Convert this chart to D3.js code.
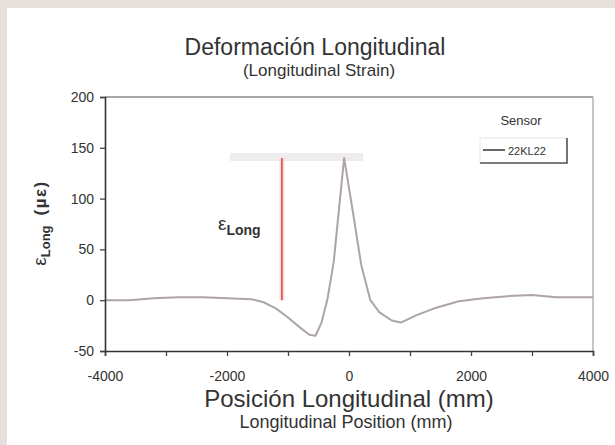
<!DOCTYPE html>
<html>
<head>
<meta charset="utf-8">
<script src="https://cdn.jsdelivr.net/npm/d3@7"></script>
<style>
  html, body { margin: 0; padding: 0; background: #e5e0dc; }
  svg { display: block; }
  text { font-family: "Liberation Sans", Arial, sans-serif; fill: #333; }
</style>
</head>
<body>
<script>
// Longitudinal strain along the rail, sensor 22KL22
const positionsMm = [-4000, -3600, -3200, -2800, -2400, -2000, -1600, -1400, -1200, -1000, -800, -650, -550, -450, -350, -250, -150, -80, 50, 200, 350, 500, 700, 850, 1100, 1400, 1800, 2200, 2600, 3000, 3400, 3800, 4000];
const strainMicro = [0, 0, 2, 3, 3, 2, 1, -2, -8, -17, -27, -34, -35, -22, 2, 38, 98, 140, 92, 35, 0, -12, -20, -22, -15, -8, -1, 2, 4, 5, 3, 3, 3];

const xTicksMinor = [-4000, -3000, -2000, -1000, 0, 1000, 2000, 3000, 4000];
const xTickLabels = [-4000, -2000, 0, 2000, 4000];
const yTickLabels = [-50, 0, 50, 100, 150, 200];

const seriesName = "22KL22";
const legendTitle = "Sensor";

// peak-strain annotation: vertical marker and reference level
const markerPos = -1100;
const markerFrom = 0;
const markerTo = 140;
const refLevel = 141;
const refFrom = -1950;
const refTo = 230;

const W = 615, H = 445;
const M = { left: 105, right: 593, top: 97, bottom: 351 };

const plain = d => String(d);

const svg = d3.select("body").append("svg").attr("width", W).attr("height", H);

// white panel
svg.append("rect").attr("x", 7).attr("y", 8).attr("width", W - 7).attr("height", H - 8).attr("fill", "#ffffff");

const x = d3.scaleLinear().domain([-4000, 4000]).range([M.left, M.right]);
const y = d3.scaleLinear().domain([-50, 200]).range([M.bottom, M.top]);

// frame: top and right
svg.append("line").attr("x1", M.left).attr("x2", M.right).attr("y1", M.top).attr("y2", M.top)
  .attr("stroke", "#8a8a8a").attr("stroke-width", 1.5);
svg.append("line").attr("x1", M.right).attr("x2", M.right).attr("y1", M.top).attr("y2", M.bottom)
  .attr("stroke", "#a0a0a0").attr("stroke-width", 1.2);

// reference level band
svg.append("line").attr("x1", x(refFrom)).attr("x2", x(refTo)).attr("y1", y(refLevel)).attr("y2", y(refLevel))
  .attr("stroke", "#eeecec").attr("stroke-width", 8);

// strain curve
const line = d3.line().x((d, i) => x(positionsMm[i])).y(d => y(d)).curve(d3.curveLinear);
svg.append("path").datum(strainMicro).attr("d", line)
  .attr("fill", "none").attr("stroke", "#ada4a4").attr("stroke-width", 2).attr("stroke-linejoin", "round");

// marker
svg.append("line").attr("x1", x(markerPos)).attr("x2", x(markerPos)).attr("y1", y(markerFrom)).attr("y2", y(markerTo))
  .attr("stroke", "#f6dada").attr("stroke-width", 5);
svg.append("line").attr("x1", x(markerPos)).attr("x2", x(markerPos)).attr("y1", y(markerFrom)).attr("y2", y(markerTo))
  .attr("stroke", "#d9302f").attr("stroke-width", 1.3);

const eps = svg.append("text").attr("x", x(markerPos) - 64).attr("y", y(69));
eps.append("tspan").text("ε").attr("font-size", 19);
eps.append("tspan").text("Long").attr("font-size", 14).attr("font-weight", "bold").attr("dy", 5);

// axes
const xAxisMinor = d3.axisBottom(x).tickValues(xTicksMinor).tickFormat("").tickSize(5);
const gxm = svg.append("g").attr("transform", `translate(0,${M.bottom})`).call(xAxisMinor);
gxm.select(".domain").attr("stroke", "#333").attr("stroke-width", 1.6);
gxm.selectAll(".tick line").attr("stroke", "#444").attr("stroke-width", 1.3);

const xAxis = d3.axisBottom(x).tickValues(xTickLabels).tickFormat(plain).tickSize(0).tickPadding(20);
const gx = svg.append("g").attr("transform", `translate(0,${M.bottom})`).call(xAxis);
gx.select(".domain").remove();
gx.selectAll(".tick text").attr("font-size", 14).attr("fill", "#333").attr("font-family", "Liberation Sans, Arial, sans-serif");

const yAxis = d3.axisLeft(y).tickValues(yTickLabels).tickFormat(plain).tickSize(5).tickPadding(6);
const gy = svg.append("g").attr("transform", `translate(${M.left},0)`).call(yAxis);
gy.select(".domain").attr("stroke", "#333").attr("stroke-width", 1.6);
gy.selectAll(".tick line").attr("stroke", "#444").attr("stroke-width", 1.3);
gy.selectAll(".tick text").attr("font-size", 14).attr("fill", "#333").attr("font-family", "Liberation Sans, Arial, sans-serif");

// titles
svg.append("text").attr("x", 315).attr("y", 55).attr("text-anchor", "middle").attr("font-size", 23)
  .text("Deformación Longitudinal");
svg.append("text").attr("x", 319).attr("y", 76).attr("text-anchor", "middle").attr("font-size", 17)
  .text("(Longitudinal Strain)");
svg.append("text").attr("x", 349).attr("y", 407).attr("text-anchor", "middle").attr("font-size", 24)
  .text("Posición Longitudinal (mm)");
svg.append("text").attr("x", 346).attr("y", 428).attr("text-anchor", "middle").attr("font-size", 18)
  .text("Longitudinal Position (mm)");

// y-axis title
const yt = svg.append("text").attr("transform", "translate(46,223) rotate(-90)").attr("text-anchor", "middle")
  .attr("font-weight", "bold").attr("font-size", 17);
yt.append("tspan").text("ε").attr("font-weight", "normal").attr("font-size", 19);
yt.append("tspan").text("Long").attr("font-size", 13).attr("dy", 4);
yt.append("tspan").text("\u2002(µε)").attr("dy", -4).attr("letter-spacing", 1.5);

// legend
svg.append("text").attr("x", 521).attr("y", 125).attr("text-anchor", "middle").attr("font-size", 13).text(legendTitle);
svg.append("rect").attr("x", 480).attr("y", 138).attr("width", 87).attr("height", 25)
  .attr("fill", "#fff").attr("stroke", "#e8e8e8").attr("stroke-width", 1);
svg.append("polyline").attr("points", "567,138 567,163 480,163")
  .attr("fill", "none").attr("stroke", "#555").attr("stroke-width", 1.6);
svg.append("line").attr("x1", 483).attr("x2", 505).attr("y1", 150).attr("y2", 150)
  .attr("stroke", "#666").attr("stroke-width", 2);
svg.append("text").attr("x", 508).attr("y", 155).attr("font-size", 11).attr("fill", "#444").text(seriesName);
</script>
</body>
</html>
